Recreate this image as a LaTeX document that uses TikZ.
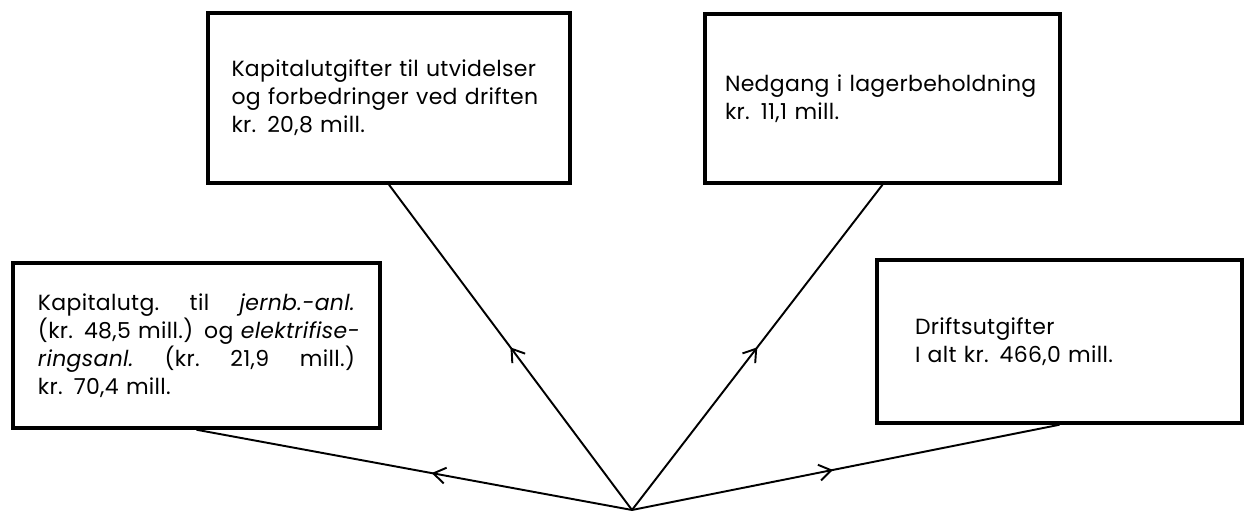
\documentclass[tikz,border=0pt]{standalone}
\usepackage{fontspec}
\setmainfont[LetterSpace=1.5]{Poppins}
\usetikzlibrary{arrows.meta,decorations.markings}

\begin{document}
\begin{tikzpicture}[
	post/.style={draw, line width=2pt, align=left, inner sep=0pt, font=\fontsize{12.5}{15.9}\selectfont},
	flow/.style={line width=1.1pt, postaction={decorate}, decoration={markings, mark=at position #1 with {\arrow{Straight Barb[length=2.4mm,width=3.2mm]}}}}
	]
	\useasboundingbox (0,0) rectangle (24.9,10.22);
	\node[post, minimum width=7.24cm, minimum height=3.4cm, text width=6.3cm] (utvid) at (7.78,8.26) {Kapitalutgifter til utvidelser\\og forbedringer ved driften\\kr. 20,8 mill.};
	\node[post, minimum width=7.1cm, minimum height=3.38cm, text width=6.3cm] (lager) at (17.65,8.25) {Nedgang i lagerbeholdning\\kr. 11,1 mill.};
	\node[post, minimum width=7.34cm, minimum height=3.3cm, text width=6.34cm] (anlegg) at (3.93,3.31) {%
		\makebox[6.34cm][l]{Kapitalutg.\hfill til\hfill \textit{jernb.-anl.}}\\
		\makebox[6.34cm][l]{(kr. 48,5 mill.) og \textit{elektrifise-}}\\
		\makebox[6.34cm][l]{\textit{ringsanl.}\hfill (kr.\hfill 21,9\hfill mill.)}\\
		kr. 70,4 mill.};
	\node[post, minimum width=7.3cm, minimum height=3.26cm, text width=5.78cm] (drift) at (21.19,3.39) {Driftsutgifter\\I alt kr. 466,0 mill.};
	\coordinate (rot) at (12.64,0.02);
	\foreach \b/\p in {utvid/0.5, lager/0.5, anlegg/0.46, drift/0.47}
		\draw[flow=\p] (rot) -- (\b.south);
\end{tikzpicture}
\end{document}
